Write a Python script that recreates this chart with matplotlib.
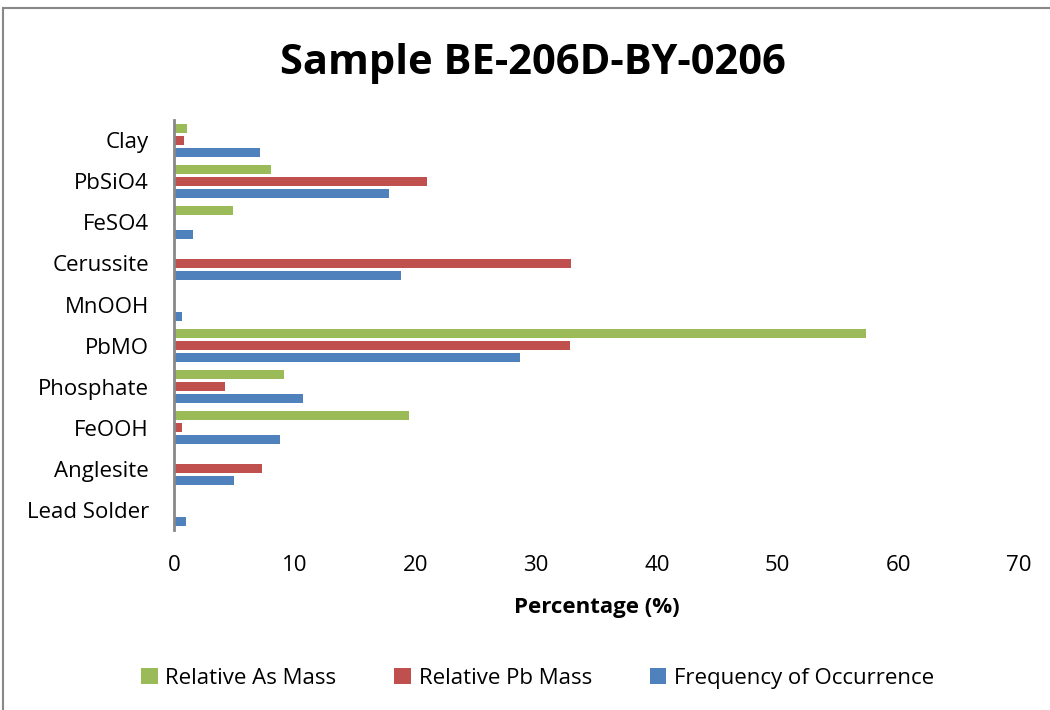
import numpy as np
import matplotlib.pyplot as plt

plt.rcParams['font.family'] = ['Open Sans', 'DejaVu Sans']

# categories from bottom to top
categorias = ['Lead Solder', 'Anglesite', 'FeOOH', 'Phosphate', 'PbMO',
              'MnOOH', 'Cerussite', 'FeSO4', 'PbSiO4', 'Clay']
as_mass = [0.0, 0.0, 19.5, 9.1, 57.3, 0.0, 0.0, 4.9, 8.0, 1.1]
pb_mass = [0.1, 7.3, 0.7, 4.2, 32.8, 0.1, 32.9, 0.0, 21.0, 0.8]
freq = [1.0, 5.0, 8.8, 10.7, 28.7, 0.7, 18.8, 1.6, 17.8, 7.1]

verde = '#9BBB59'
vermelho = '#C0504D'
azul = '#4F81BD'

fig = plt.figure(figsize=(10.5, 7.1), dpi=100)
ax = fig.add_axes([0.1657, 0.2535, 0.8048, 0.5775])

y = np.arange(len(categorias))
h = 0.226
ax.barh(y + 0.297, as_mass, height=h, color=verde, label='Relative As Mass')
ax.barh(y, pb_mass, height=h, color=vermelho, label='Relative Pb Mass')
ax.barh(y - 0.297, freq, height=h, color=azul, label='Frequency of Occurrence')

ax.set_xlim(0, 70)
ax.set_ylim(-0.5, 9.5)
ax.set_yticks(y)
ax.set_yticklabels(categorias, fontsize=16)
ax.set_xticks(range(0, 71, 10))
ax.tick_params(axis='x', labelsize=16, length=0, pad=18)
ax.tick_params(axis='y', length=0, pad=18)

for s in ['top', 'right', 'bottom']:
    ax.spines[s].set_visible(False)
ax.spines['left'].set_color('#888888')
ax.spines['left'].set_linewidth(2)

ax.set_xlabel('Percentage (%)', fontsize=16, fontweight='bold', labelpad=15)
fig.text(0.508, 0.91, 'Sample BE-206D-BY-0206', ha='center', va='center',
         fontsize=30, fontweight='bold')

fig.legend(loc='center', bbox_to_anchor=(0.512, 0.045), ncol=3, frameon=False,
           fontsize=16, handlelength=0.75, handleheight=0.75, columnspacing=2.6,
           handletextpad=0.35)

# chart border (gray, top and left visible)
borda = plt.Rectangle((0.003, -0.05), 1.2, 1.039, transform=fig.transFigure,
                      fill=False, edgecolor='#888888', linewidth=1.5)
fig.add_artist(borda)

plt.savefig('out.png')
